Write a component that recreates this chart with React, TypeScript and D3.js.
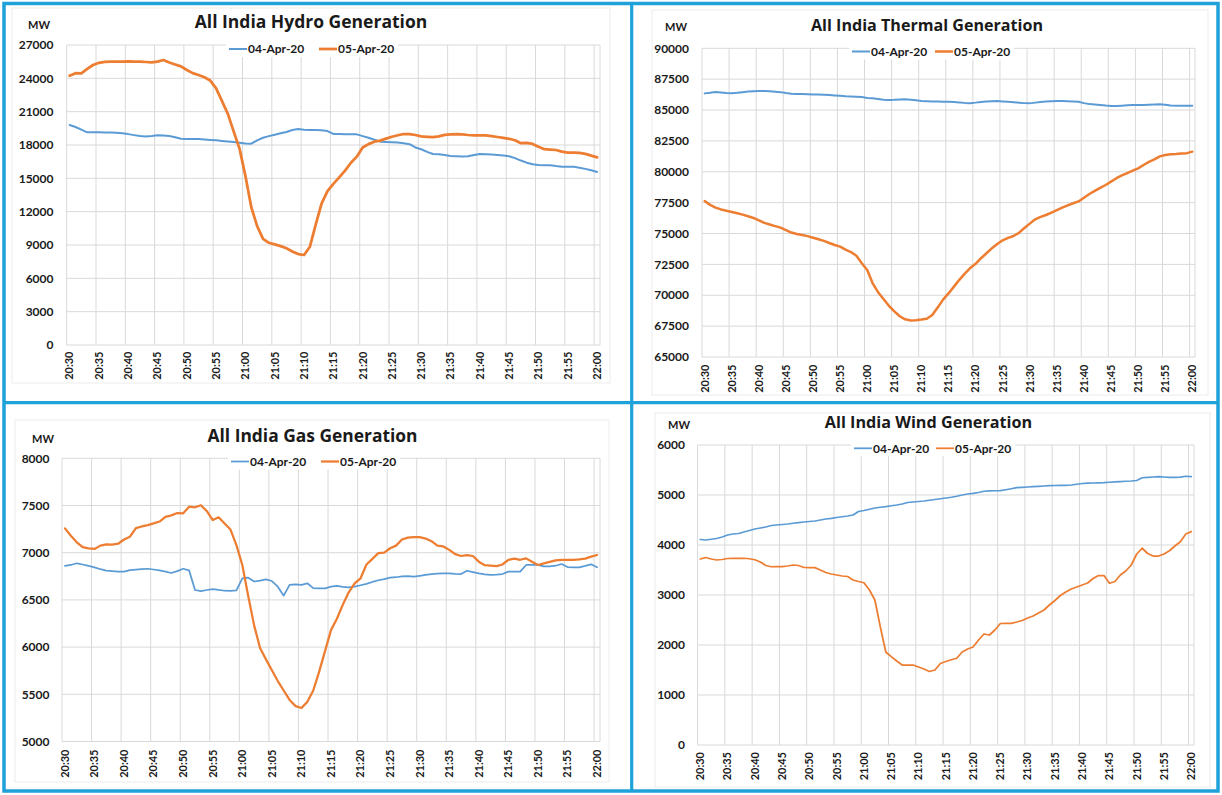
import React from "react";
import * as d3 from "d3";

// ---------- DATA ----------
const MINUTES = [
  "20:30","20:31","20:32","20:33","20:34","20:35","20:36","20:37","20:38","20:39",
  "20:40","20:41","20:42","20:43","20:44","20:45","20:46","20:47","20:48","20:49",
  "20:50","20:51","20:52","20:53","20:54","20:55","20:56","20:57","20:58","20:59",
  "21:00","21:01","21:02","21:03","21:04","21:05","21:06","21:07","21:08","21:09",
  "21:10","21:11","21:12","21:13","21:14","21:15","21:16","21:17","21:18","21:19",
  "21:20","21:21","21:22","21:23","21:24","21:25","21:26","21:27","21:28","21:29",
  "21:30","21:31","21:32","21:33","21:34","21:35","21:36","21:37","21:38","21:39",
  "21:40","21:41","21:42","21:43","21:44","21:45","21:46","21:47","21:48","21:49",
  "21:50","21:51","21:52","21:53","21:54","21:55","21:56","21:57","21:58","21:59",
  "22:00"
];

const TICK_LABELS = [
  "20:30","20:35","20:40","20:45","20:50","20:55","21:00","21:05","21:10","21:15",
  "21:20","21:25","21:30","21:35","21:40","21:45","21:50","21:55","22:00"
];

const SERIES_NAMES = ["04-Apr-20", "05-Apr-20"];

const HYDRO_04 = [
  19800,19620,19380,19140,19140,19140,19130,19120,19110,19050,
  18980,18890,18810,18760,18800,18870,18850,18810,18700,18560,
  18540,18540,18530,18500,18460,18420,18370,18320,18260,18200,
  18130,18120,18420,18650,18800,18930,19050,19170,19350,19430,
  19380,19350,19350,19320,19250,19000,18980,18970,18970,18960,
  18800,18650,18470,18300,18270,18250,18220,18150,18070,17780,
  17620,17380,17190,17170,17100,17010,16980,16960,16980,17100,
  17190,17170,17140,17110,17060,16990,16820,16600,16410,16260,
  16190,16180,16170,16100,16050,16050,16050,15960,15850,15720,
  15570
];
const HYDRO_05 = [
  24240,24460,24450,24850,25200,25400,25480,25500,25510,25500,
  25520,25510,25500,25470,25440,25500,25650,25420,25250,25080,
  24750,24470,24300,24100,23800,23100,21950,20800,19200,17650,
  15200,12400,10700,9550,9200,9050,8900,8700,8420,8180,
  8100,8850,10850,12750,13850,14500,15080,15700,16400,16950,
  17770,18080,18300,18390,18570,18740,18880,18990,18970,18900,
  18780,18740,18700,18780,18910,18950,18980,18960,18900,18870,
  18870,18870,18800,18720,18640,18560,18430,18160,18200,18100,
  17850,17620,17580,17550,17400,17310,17310,17290,17200,17050,
  16890
];

const THERMAL_04 = [
  86350,86400,86460,86420,86380,86360,86400,86450,86500,86530,
  86550,86540,86520,86490,86450,86380,86320,86300,86290,86280,
  86260,86250,86230,86210,86180,86150,86120,86100,86080,86050,
  85980,85950,85900,85840,85810,85830,85860,85870,85840,85790,
  85740,85720,85700,85690,85680,85670,85650,85620,85580,85550,
  85600,85660,85700,85720,85730,85700,85670,85640,85600,85560,
  85540,85600,85660,85700,85720,85730,85730,85720,85700,85670,
  85560,85480,85440,85400,85360,85330,85320,85350,85380,85400,
  85410,85400,85420,85440,85460,85420,85360,85350,85340,85350,
  85350
];
const THERMAL_05 = [
  77630,77320,77100,76950,76850,76740,76640,76530,76400,76260,
  76070,75860,75730,75600,75480,75280,75080,74960,74880,74790,
  74660,74540,74400,74230,74070,73940,73700,73500,73200,72600,
  72050,70970,70250,69700,69150,68700,68300,68050,67950,67970,
  68030,68100,68400,69000,69650,70150,70700,71250,71750,72200,
  72550,73000,73400,73800,74150,74450,74650,74800,75050,75450,
  75800,76150,76350,76500,76700,76900,77100,77280,77450,77600,
  77900,78200,78450,78700,78930,79200,79480,79700,79900,80100,
  80280,80550,80800,81000,81250,81360,81420,81440,81480,81510,
  81630
];

const GAS_04 = [
  6860,6870,6888,6875,6860,6845,6825,6810,6805,6800,
  6800,6815,6820,6825,6830,6822,6812,6800,6785,6805,
  6830,6812,6605,6594,6605,6615,6605,6597,6595,6600,
  6729,6735,6695,6705,6718,6700,6640,6545,6660,6665,
  6660,6676,6625,6622,6623,6640,6648,6638,6633,6640,
  6655,6670,6690,6708,6720,6735,6740,6750,6752,6746,
  6755,6765,6774,6778,6782,6780,6776,6774,6809,6795,
  6780,6770,6764,6768,6774,6799,6800,6799,6870,6870,
  6872,6855,6856,6862,6880,6848,6845,6845,6860,6877,
  6845
];
const GAS_05 = [
  7258,7180,7110,7058,7045,7040,7075,7088,7085,7095,
  7140,7170,7260,7278,7292,7310,7330,7380,7395,7420,
  7417,7487,7481,7503,7440,7346,7375,7310,7245,7080,
  6870,6540,6230,5990,5870,5755,5640,5540,5440,5375,
  5355,5420,5540,5740,5960,6180,6300,6450,6580,6675,
  6729,6875,6935,6996,7000,7047,7075,7140,7160,7166,
  7165,7150,7122,7075,7066,7030,6985,6965,6975,6965,
  6905,6868,6864,6858,6875,6923,6938,6925,6940,6905,
  6870,6886,6902,6918,6923,6923,6925,6930,6937,6958,
  6976
];

const WIND_04 = [
  4110,4100,4115,4130,4160,4200,4220,4230,4260,4290,
  4320,4340,4360,4390,4400,4410,4420,4435,4447,4460,
  4470,4480,4500,4520,4533,4550,4565,4580,4600,4670,
  4690,4715,4740,4755,4767,4785,4800,4820,4850,4860,
  4870,4880,4895,4910,4925,4940,4955,4975,5000,5020,
  5033,5050,5075,5082,5085,5087,5105,5125,5147,5153,
  5160,5167,5173,5180,5187,5190,5191,5192,5200,5215,
  5230,5236,5240,5243,5247,5255,5262,5268,5275,5280,
  5290,5345,5352,5360,5367,5360,5353,5353,5358,5375,
  5367
];
const WIND_05 = [
  3720,3750,3720,3700,3710,3730,3735,3735,3735,3725,
  3705,3660,3590,3565,3567,3567,3580,3600,3590,3550,
  3548,3547,3500,3450,3420,3400,3380,3370,3300,3270,
  3245,3100,2900,2360,1860,1767,1680,1600,1600,1600,
  1560,1520,1470,1500,1630,1670,1705,1735,1860,1920,
  1960,2100,2220,2200,2300,2430,2435,2433,2460,2490,
  2540,2580,2640,2700,2800,2890,2990,3060,3120,3160,
  3200,3240,3330,3390,3390,3235,3270,3400,3480,3600,
  3820,3935,3830,3780,3780,3820,3885,3980,4065,4220,
  4267
];

const HYDRO_Y_TICKS = [0, 3000, 6000, 9000, 12000, 15000, 18000, 21000, 24000, 27000];
const THERMAL_Y_TICKS = [65000, 67500, 70000, 72500, 75000, 77500, 80000, 82500, 85000, 87500, 90000];
const GAS_Y_TICKS = [5000, 5500, 6000, 6500, 7000, 7500, 8000];
const WIND_Y_TICKS = [0, 1000, 2000, 3000, 4000, 5000, 6000];

const TITLES = [
  "All India Hydro Generation",
  "All India Thermal Generation",
  "All India Gas Generation",
  "All India Wind Generation"
];

// ---------- STYLE / LAYOUT ----------
const BLUE = "#5B9BD5";
const ORANGE = "#ED7D31";
const FRAME = "#1FA1D9";
const GRID = "#D9D9D9";
const TEXT = "#1a1a1a";
const LABEL_FONT = "Lato, 'Liberation Sans', sans-serif";
const TITLE_FONT = "'Open Sans', 'DejaVu Sans', sans-serif";

type Layout = {
  title: string;
  s04: number[];
  s05: number[];
  yTicks: number[];
  box: [number, number, number, number];
  x0: number; x1: number; yTop: number; yBot: number;
  titleX: number; titleY: number; titleSize: number;
  mwX: number; mwY: number;
  yLabelX: number;
  legY: number; leg04X: number; leg05X: number;
  w04: number; w05: number;
  xLabelGap: number;
};

const PANELS: Layout[] = [
  {
    title: TITLES[0], s04: HYDRO_04, s05: HYDRO_05, yTicks: HYDRO_Y_TICKS,
    box: [12, 8, 610, 383], x0: 66.7, x1: 600, yTop: 45, yBot: 345,
    titleX: 311, titleY: 28, titleSize: 17.5, mwX: 28, mwY: 28.5, yLabelX: 53.5,
    legY: 49, leg04X: 229, leg05X: 319, w04: 2, w05: 2.75, xLabelGap: 6.5,
  },
  {
    title: TITLES[1], s04: THERMAL_04, s05: THERMAL_05, yTicks: THERMAL_Y_TICKS,
    box: [652, 10, 1208, 395], x0: 702, x1: 1195, yTop: 48.3, yBot: 357,
    titleX: 927, titleY: 31, titleSize: 16.1, mwX: 665, mwY: 31, yLabelX: 689,
    legY: 51.5, leg04X: 852, leg05X: 935, w04: 2, w05: 2.5, xLabelGap: 7.5,
  },
  {
    title: TITLES[2], s04: GAS_04, s05: GAS_05, yTicks: GAS_Y_TICKS,
    box: [15, 420, 609, 782], x0: 62, x1: 600, yTop: 458.3, yBot: 741.5,
    titleX: 312.5, titleY: 442, titleSize: 17.4, mwX: 32, mwY: 443, yLabelX: 49.5,
    legY: 461.5, leg04X: 231, leg05X: 321, w04: 1.75, w05: 2.25, xLabelGap: 8,
  },
  {
    title: TITLES[3], s04: WIND_04, s05: WIND_05, yTicks: WIND_Y_TICKS,
    box: [655, 413, 1210, 787], x0: 697.6, x1: 1194, yTop: 445, yBot: 745,
    titleX: 928.5, titleY: 428, titleSize: 16.2, mwX: 668, mwY: 428.5, yLabelX: 685,
    legY: 448.3, leg04X: 854, leg05X: 936, w04: 1.75, w05: 1.75, xLabelGap: 7,
  },
];

function Panel({ p }: { p: Layout }) {
  const x = d3.scaleBand<string>().domain(MINUTES).range([p.x0, p.x1]).paddingInner(0).paddingOuter(0);
  const bw = x.bandwidth();
  const xc = (c: string) => (x(c) as number) + bw / 2;
  const y = d3.scaleLinear()
    .domain([p.yTicks[0], p.yTicks[p.yTicks.length - 1]])
    .range([p.yBot, p.yTop]);
  const line = d3.line<number>()
    .x((_, i) => xc(MINUTES[i]))
    .y((v) => y(v))
    .curve(d3.curveLinear);

  const [bx0, by0, bx1, by1] = p.box;
  const legLen = 18;

  return (
    <g>
      <rect x={bx0} y={by0} width={bx1 - bx0} height={by1 - by0} fill="#fff" stroke="#ececec" strokeWidth={1} />
      {/* horizontal gridlines */}
      {p.yTicks.map((t) => (
        <line key={"h" + t} x1={p.x0} x2={p.x1} y1={y(t)} y2={y(t)} stroke={GRID} strokeWidth={1} />
      ))}
      {/* vertical gridlines */}
      {TICK_LABELS.map((t) => (
        <line key={"v" + t} x1={x(t) as number} x2={x(t) as number} y1={p.yTop} y2={p.yBot} stroke={GRID} strokeWidth={1} />
      ))}
      <line x1={p.x1} x2={p.x1} y1={p.yTop} y2={p.yBot} stroke={GRID} strokeWidth={1} />
      {/* y labels */}
      {p.yTicks.map((t) => (
        <text key={"yl" + t} x={p.yLabelX} y={y(t)} dy="0.35em" textAnchor="end"
          fontFamily={LABEL_FONT} fontWeight={700} fontSize={12} fill={TEXT}>{t}</text>
      ))}
      {/* x labels */}
      {TICK_LABELS.map((t) => (
        <text key={"xl" + t} transform={`translate(${xc(t)},${p.yBot + p.xLabelGap}) rotate(-90)`}
          dy="0.35em" textAnchor="end" fontFamily={LABEL_FONT} fontWeight={700} fontSize={11} fill={TEXT}>{t}</text>
      ))}
      {/* series */}
      <path d={line(p.s04) || ""} fill="none" stroke={BLUE} strokeWidth={p.w04} strokeLinejoin="round" strokeLinecap="round" />
      <path d={line(p.s05) || ""} fill="none" stroke={ORANGE} strokeWidth={p.w05} strokeLinejoin="round" strokeLinecap="round" />
      {/* legend */}
      <rect x={p.leg04X - 3} y={p.legY - 8} width={p.leg05X + legLen + 64 - p.leg04X} height={16} fill="#fff" />
      <line x1={p.leg04X} x2={p.leg04X + legLen} y1={p.legY} y2={p.legY} stroke={BLUE} strokeWidth={p.w04} />
      <text x={p.leg04X + legLen + 1} y={p.legY} dy="0.35em" fontFamily={LABEL_FONT} fontWeight={700} fontSize={12} fill={TEXT}>{SERIES_NAMES[0]}</text>
      <line x1={p.leg05X} x2={p.leg05X + legLen} y1={p.legY} y2={p.legY} stroke={ORANGE} strokeWidth={p.w05} />
      <text x={p.leg05X + legLen + 1} y={p.legY} dy="0.35em" fontFamily={LABEL_FONT} fontWeight={700} fontSize={12} fill={TEXT}>{SERIES_NAMES[1]}</text>
      {/* title and unit */}
      <text x={p.titleX} y={p.titleY} textAnchor="middle" fontFamily={TITLE_FONT} fontWeight={700} fontSize={p.titleSize} fill={TEXT}>{p.title}</text>
      <text x={p.mwX} y={p.mwY} fontFamily={LABEL_FONT} fontWeight={700} fontSize={11} fill={TEXT}>MW</text>
    </g>
  );
}

export default function App() {
  return (
    <svg width={1222} height={795} viewBox="0 0 1222 795"
      style={{ position: "absolute", left: 0, top: 0, background: "#fff" }}>
      <rect x={0} y={0} width={1222} height={795} fill="#fff" />
      {PANELS.map((p, i) => <Panel key={i} p={p} />)}
      {/* frame */}
      <rect x={4} y={3.5} width={1214} height={787.5} fill="none" stroke={FRAME} strokeWidth={3.5} />
      <line x1={631.7} x2={631.7} y1={3.5} y2={791} stroke={FRAME} strokeWidth={3.2} />
      <line x1={4} x2={1218} y1={402.7} y2={402.7} stroke={FRAME} strokeWidth={3.2} />
    </svg>
  );
}
